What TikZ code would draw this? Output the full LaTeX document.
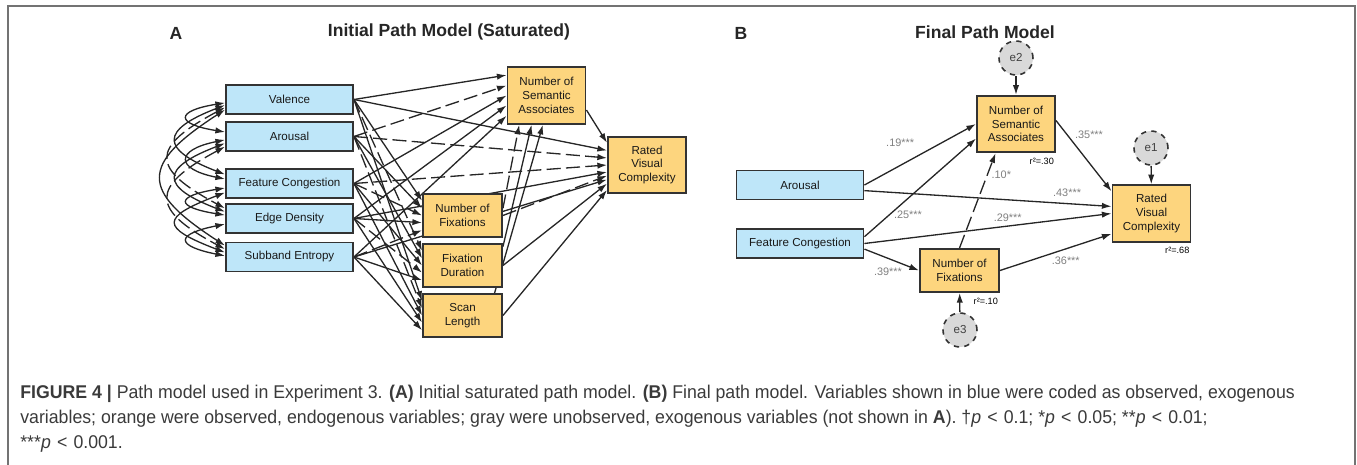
\documentclass[tikz,border=0pt]{standalone}
\usepackage{fontspec}
\setmainfont{Liberation Sans}
\newfontfamily\capfont[FakeStretch=0.96]{Liberation Sans}
\usetikzlibrary{arrows.meta}
\usetikzlibrary{calc}

\definecolor{obsblue}{HTML}{BEE6F9}
\definecolor{endorange}{HTML}{FDD57E}
\definecolor{latgray}{HTML}{D9D9D9}
\definecolor{boxline}{HTML}{333333}
\definecolor{wgtgray}{HTML}{7F7F7F}
\definecolor{captext}{HTML}{3A3A3A}
\pgfdeclarelayer{back}
\pgfsetlayers{back,main}
\newcommand{\lt}{\hspace{3.5pt}<\hspace{3.5pt}}

\begin{document}
\begin{tikzpicture}[x=0.02cm,y=-0.02cm,
    box/.style={draw=boxline,line width=1.1pt,align=center,inner sep=0pt,font=\fontsize{6.6}{7.8}\selectfont,text=black!90},
    exo/.style={box,fill=obsblue,minimum width=2.54cm,minimum height=0.58cm},
    endo/.style={box,fill=endorange,minimum width=1.58cm,minimum height=0.86cm},
    endobig/.style={box,fill=endorange,minimum width=1.56cm,minimum height=1.13cm},
    err/.style={circle,draw=boxline,dashed,line width=0.9pt,fill=latgray,minimum size=0.68cm,inner sep=0pt,text=black!75,font=\fontsize{6.6}{7.8}\selectfont},
    arr/.style={-{Latex[length=5.5pt,width=3.6pt]},line width=0.75pt,black!85},
    nsarr/.style={arr,dash pattern=on 8pt off 3pt},
    cov/.style={{Latex[length=5.5pt,width=3.6pt]}-{Latex[length=5.5pt,width=3.6pt]},line width=0.75pt,black!85},
    nscov/.style={cov,dash pattern=on 8pt off 3pt},
    wgt/.style={font=\fontsize{6.2}{7}\selectfont,text=wgtgray,inner sep=1pt},
    rsq/.style={font=\fontsize{5.2}{6}\selectfont,inner sep=1pt,anchor=north east,yshift=-1.5pt},
    ttl/.style={font=\fontsize{10}{12}\selectfont\bfseries,text=black!85},
    capline/.style={anchor=base west,inner sep=0pt,font=\capfont\fontsize{10.5}{14}\selectfont,text=captext}
  ]
  \useasboundingbox (0,0) rectangle (1357,465);
  \draw[black!55,line width=0.9pt] (8,465) -- (8,6) -- (1355,6) -- (1355,465);

  % panel A
  \node[ttl] (lA) at (176,33) {A};
  \node[ttl] (tA) at (449,32) {Initial Path Model (Saturated)};
  \node[exo] (V) at (289.5,99.5) {Valence};
  \node[exo] (Ar) at (289.5,136.5) {Arousal};
  \node[exo] (FC) at (289.5,183.5) {Feature Congestion};
  \node[exo] (ED) at (289.5,218.5) {Edge Density};
  \node[exo] (SE) at (289.5,257) {Subband Entropy};
  \node[endobig] (Sem) at (546.5,95.5) {Number of\\Semantic\\Associates};
  \node[endobig] (Rated) at (647,165) {Rated\\Visual\\Complexity};
  \node[endo] (NF) at (462.5,215.5) {Number of\\Fixations};
  \node[endo] (FD) at (462.5,265.5) {Fixation\\Duration};
  \node[endo] (SL) at (462.5,315.5) {Scan\\Length};

  \begin{pgfonlayer}{back}
    % exogenous -> semantic associates
    \draw[arr] (V.east) -- (Sem.153);
    \draw[nsarr] (Ar.east) -- (Sem.166);
    \draw[arr] (FC.east) -- (Sem.180);
    \draw[arr] (ED.east) -- (Sem.194);
    \draw[arr] (SE.east) -- (Sem.207);
    % exogenous -> rated complexity
    \draw[arr] (V.east) -- (Rated.160);
    \draw[nsarr] (Ar.east) -- (Rated.170);
    \draw[nsarr] (FC.east) -- (Rated.180);
    \draw[arr] (ED.east) -- (Rated.190);
    \draw[arr] (SE.east) -- (Rated.200);
    % exogenous -> eye movements
    \draw[arr] (V.east) -- (NF.160);
    \draw[arr] (Ar.east) -- (NF.170);
    \draw[nsarr] (FC.east) -- (NF.180);
    \draw[arr] (ED.east) -- (NF.190);
    \draw[nsarr] (SE.east) -- (NF.200);
    \draw[nsarr] (V.east) -- (FD.160);
    \draw[arr] (Ar.east) -- (FD.170);
    \draw[arr] (FC.east) -- (FD.180);
    \draw[nsarr] (ED.east) -- (FD.190);
    \draw[arr] (SE.east) -- (FD.200);
    \draw[arr] (V.east) -- (SL.160);
    \draw[nsarr] (Ar.east) -- (SL.170);
    \draw[arr] (FC.east) -- (SL.180);
    \draw[arr] (ED.east) -- (SL.190);
    \draw[arr] (SE.east) -- (SL.200);
    % eye movements -> outcomes
    \draw[nsarr] (NF.10) -- (Sem.227);
    \draw[arr] (FD.25) -- (Sem.243);
    \draw[arr] (SL.35) -- (Sem.263);
    \draw[nsarr] (NF.east) -- (Rated.195);
    \draw[arr] (FD.east) -- (Rated.205);
    \draw[arr] (SL.east) -- (Rated.212);
    \draw[arr] (Sem.-20) -- (Rated.151);
    % covariances
    \draw[cov] (V.183) .. controls +(-50,8) and +(-50,-8) .. (Ar.176);
    \draw[cov] (V.185) .. controls +(-65,25) and +(-65,-25) .. (FC.172);
    \draw[nscov] (V.187) .. controls +(-75,40) and +(-75,-40) .. (ED.171);
    \draw[cov] (V.189) .. controls +(-85,55) and +(-85,-55) .. (SE.170);
    \draw[cov] (Ar.183) .. controls +(-50,10) and +(-50,-10) .. (FC.176);
    \draw[cov] (Ar.186) .. controls +(-65,25) and +(-65,-25) .. (ED.174);
    \draw[nscov] (Ar.189) .. controls +(-75,40) and +(-75,-40) .. (SE.173);
    \draw[cov] (FC.184) .. controls +(-50,8) and +(-50,-8) .. (ED.177);
    \draw[cov] (FC.188) .. controls +(-65,25) and +(-65,-25) .. (SE.176);
    \draw[cov] (ED.185) .. controls +(-50,10) and +(-50,-10) .. (SE.179);
  \end{pgfonlayer}

  % panel B
  \node[ttl] (lB) at (741,33) {B};
  \node[ttl] (tB) at (985,32) {Final Path Model};
  \node[err] (e2) at (1016,58) {e2};
  \node[endobig] (SemB) at (1016,124) {Number of\\Semantic\\Associates};
  \node[exo] (ArB) at (800,185) {Arousal};
  \node[exo] (FCB) at (800,243.5) {Feature Congestion};
  \node[endo] (NFB) at (959.5,270.5) {Number of\\Fixations};
  \node[err] (e3) at (960,330) {e3};
  \node[endobig] (RatedB) at (1151.5,213.5) {Rated\\Visual\\Complexity};
  \node[err] (e1) at (1151,148) {e1};
  \node[rsq] (r30) at (SemB.south east) {r²=.30};
  \node[rsq] (r10) at (NFB.south east) {r²=.10};
  \node[rsq] (r68) at (RatedB.south east) {r²=.68};

  \draw[arr] (e2) -- (SemB);
  \draw[arr] (e1) -- (RatedB);
  \draw[arr] (e3) -- (NFB);
  \draw[arr] (ArB.east) to node[wgt,pos=.32,yshift=12.7pt] (w19) {.19***} (SemB.west);
  \draw[arr] (FCB.6) to node[wgt,pos=.39,yshift=-9.4pt] (w25) {.25***} (SemB.200);
  \draw[arr] (ArB.-5) to node[wgt,pos=.82,yshift=6pt] (w43) {.43***} (RatedB.170);
  \draw[arr] (FCB.east) to node[wgt,pos=.58,yshift=4.6pt] (w29) {.29***} (RatedB.west);
  \draw[arr] (FCB.-5) to node[wgt,pos=.43,yshift=-7.8pt] (w39) {.39***} (NFB.west);
  \draw[arr] (NFB.east) to node[wgt,pos=.59,yshift=-6.6pt] (w36) {.36***} (RatedB.207);
  \draw[nsarr] (NFB.north) to node[wgt,pos=.77,xshift=8pt] (w10) {.10*} (SemB.235);
  \draw[arr] (SemB.5) to node[wgt,pos=.2,xshift=12.5pt] (w35) {.35***} (RatedB.151);

  % caption
  \node[capline] (cap1) at (20,399) {\textbf{FIGURE 4 |} Path model used in Experiment 3. \textbf{(A)} Initial saturated path model. \textbf{(B)} Final path model. Variables shown in blue were coded as observed, exogenous};
  \node[capline] (cap2) at (20,424) {variables; orange were observed, endogenous variables; gray were unobserved, exogenous variables (not shown in \textbf{A}). †\textit{p}\lt0.1; *\textit{p}\lt0.05; **\textit{p}\lt0.01;};
  \node[capline] (cap3) at (20,449) {***\textit{p}\lt0.001.};
\end{tikzpicture}
\end{document}
